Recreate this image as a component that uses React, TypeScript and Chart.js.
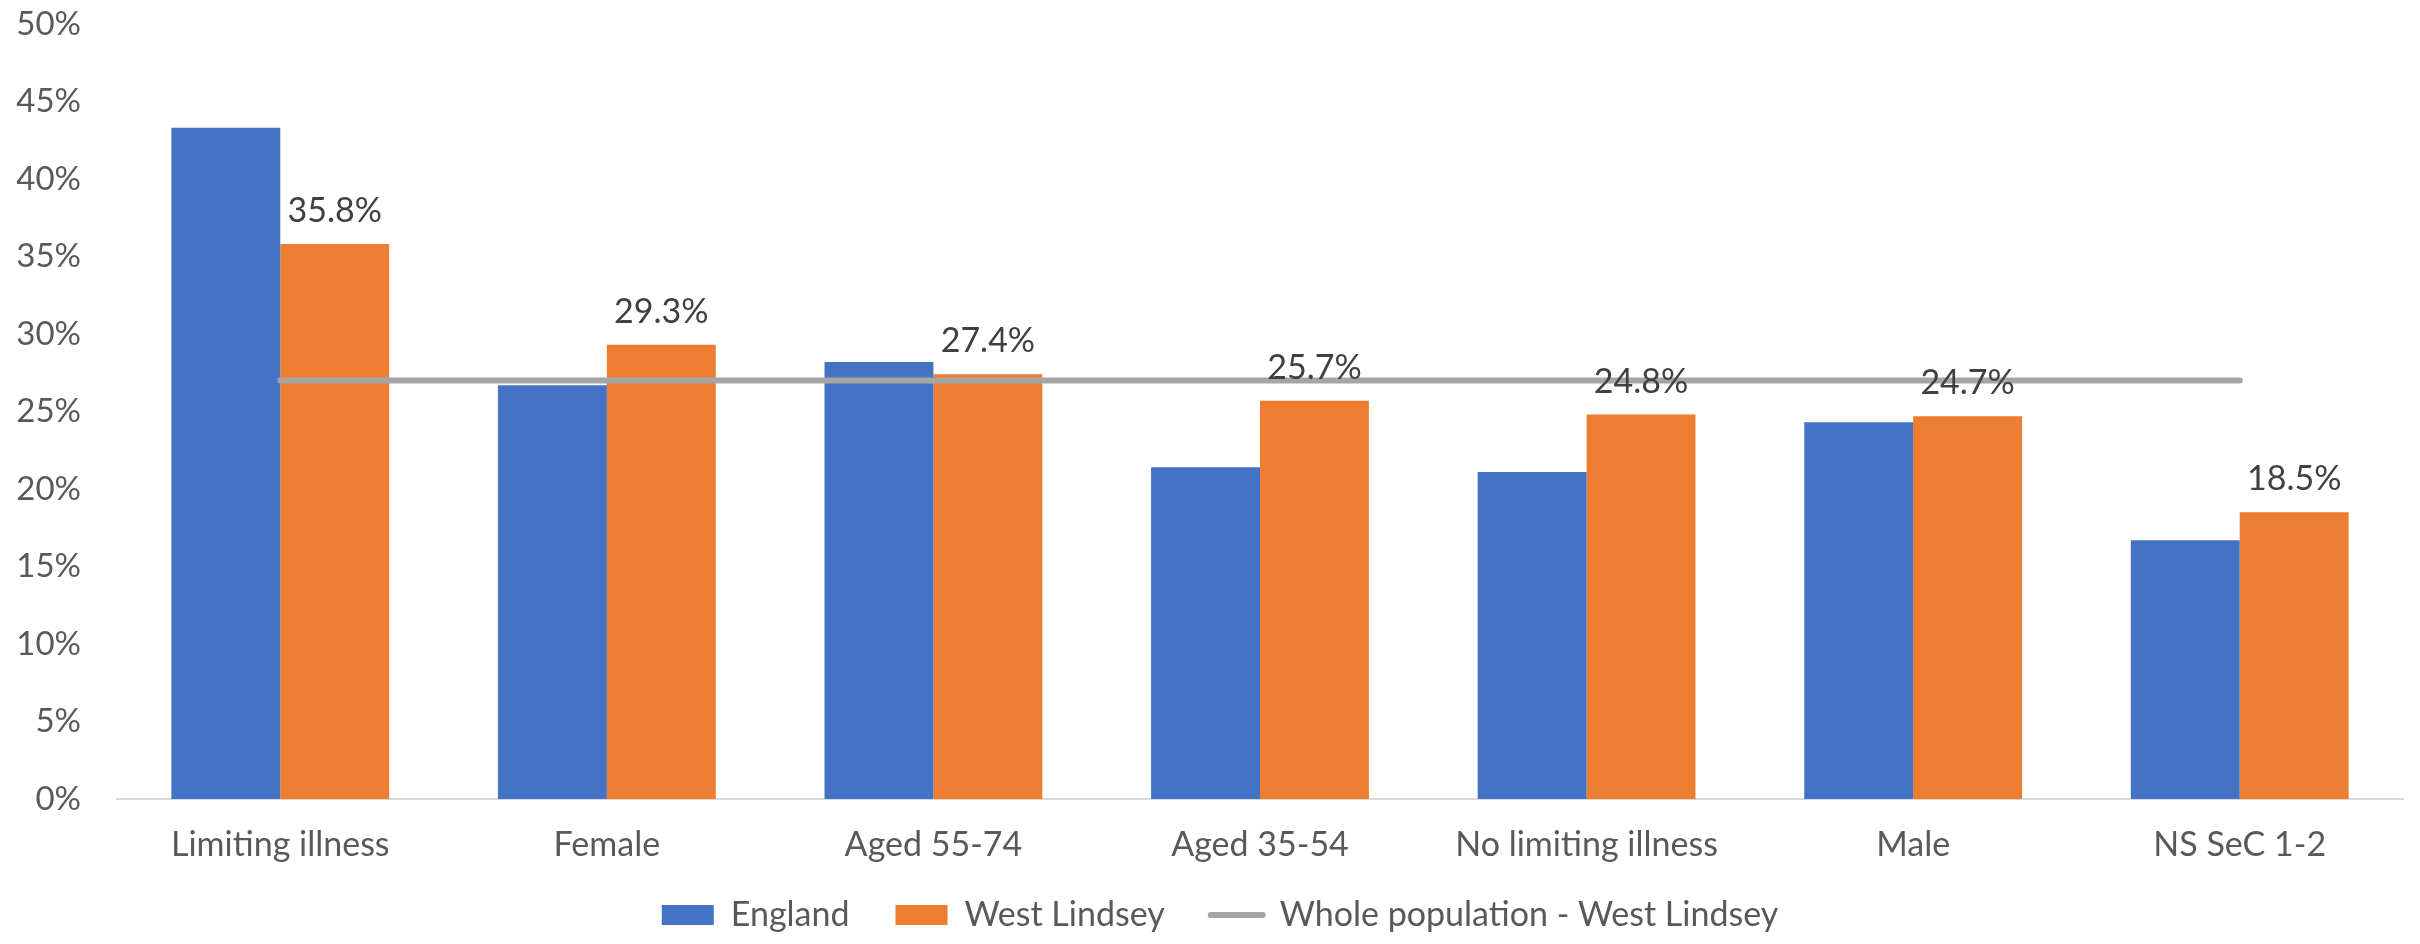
import { useEffect, useRef } from 'react';
import { Chart, registerables } from 'chart.js';

Chart.register(...registerables);

const categories = [
  'Limiting illness',
  'Female',
  'Aged 55-74',
  'Aged 35-54',
  'No limiting illness',
  'Male',
  'NS SeC 1-2',
];

// Percentages for each group
const englandValues = [43.3, 26.7, 28.2, 21.4, 21.1, 24.3, 16.7];
const westLindseyValues = [35.8, 29.3, 27.4, 25.7, 24.8, 24.7, 18.5];
const wholePopulationValues = [27.0, 27.0, 27.0, 27.0, 27.0, 27.0, 27.0];

const seriesNames = ['England', 'West Lindsey', 'Whole population - West Lindsey'];
const seriesColors = ['#4472C4', '#ED7D31', '#A5A5A5'];

const yMin = 0;
const yMax = 50;
const yStep = 5;

const FONT_FAMILY = 'Lato, "Open Sans", "DejaVu Sans", sans-serif';
const FONT_SIZE = 34;
const TICK_FONT_SIZE = 33;

// Writes the West Lindsey value above each orange bar
const westLindseyLabels = {
  id: 'westLindseyLabels',
  afterDatasetsDraw(chart: any) {
    const meta = chart.getDatasetMeta(1);
    const ctx = chart.ctx;
    ctx.save();
    ctx.font = `${FONT_SIZE}px ${FONT_FAMILY}`;
    ctx.fillStyle = '#404040';
    ctx.textAlign = 'center';
    ctx.textBaseline = 'alphabetic';
    meta.data.forEach((bar: any, i: number) => {
      ctx.fillText(westLindseyValues[i].toFixed(1) + '%', bar.x, bar.y - 22);
    });
    ctx.restore();
  },
};

export default function App() {
  const canvasRef = useRef<HTMLCanvasElement | null>(null);

  useEffect(() => {
    if (!canvasRef.current) return;
    const chart = new Chart(canvasRef.current, {
      type: 'bar',
      data: {
        labels: categories,
        datasets: [
          {
            type: 'bar',
            label: seriesNames[0],
            data: englandValues,
            backgroundColor: seriesColors[0],
            borderWidth: 0,
            order: 1,
          },
          {
            type: 'bar',
            label: seriesNames[1],
            data: westLindseyValues,
            backgroundColor: seriesColors[1],
            borderWidth: 0,
            order: 1,
          },
          {
            type: 'line',
            label: seriesNames[2],
            data: wholePopulationValues,
            borderColor: seriesColors[2],
            backgroundColor: seriesColors[2],
            borderWidth: 6,
            borderCapStyle: 'round',
            pointRadius: 0,
            pointHoverRadius: 0,
            fill: false,
            order: 0,
          },
        ] as any,
      },
      options: {
        animation: false,
        responsive: true,
        maintainAspectRatio: false,
        layout: { padding: { left: 37, right: 17, top: 24, bottom: 2 } },
        datasets: {
          bar: { categoryPercentage: 0.667, barPercentage: 1 },
        },
        scales: {
          x: {
            grid: { display: false, drawTicks: false },
            border: { display: true, color: '#D9D9D9', width: 2 },
            ticks: {
              color: '#595959',
              font: { family: FONT_FAMILY, size: FONT_SIZE, lineHeight: 1 },
              padding: 29,
              maxRotation: 0,
              autoSkip: false,
            },
            afterFit(scale: any) {
              scale.height = 53;
              // category labels may extend into the legend band
              scale._computeLabelArea = () => undefined;
            },
          },
          y: {
            min: yMin,
            max: yMax,
            grid: { display: false, drawTicks: false },
            border: { display: false },
            ticks: {
              stepSize: yStep,
              color: '#595959',
              font: { family: FONT_FAMILY, size: TICK_FONT_SIZE },
              padding: 36,
              callback: (v: any) => `${v}%`,
            },
            afterFit(scale: any) {
              scale.width = 80;
              scale.paddingTop = 0;
              scale.paddingBottom = 0;
              // percentage labels may extend into the left padding
              scale._computeLabelArea = () => undefined;
            },
          },
        },
        plugins: {
          tooltip: { enabled: false },
          legend: {
            position: 'bottom',
            labels: {
              usePointStyle: true,
              pointStyleWidth: 52,
              boxWidth: 52,
              boxHeight: 20,
              padding: 46,
              color: '#595959',
              font: { family: FONT_FAMILY, size: FONT_SIZE },
              generateLabels: () =>
                seriesNames.map((name, i) => ({
                  text: name,
                  fillStyle: seriesColors[i],
                  strokeStyle: seriesColors[i],
                  lineWidth: i === 2 ? 6 : 0,
                  lineCap: 'round',
                  pointStyle: i === 2 ? 'line' : 'rect',
                  fontColor: '#595959',
                  hidden: false,
                  datasetIndex: i,
                })) as any,
            },
          },
        },
      } as any,
      plugins: [westLindseyLabels],
    });
    return () => chart.destroy();
  }, []);

  return (
    <div
      style={{
        position: 'fixed',
        left: 0,
        top: 0,
        width: 2420,
        height: 944,
        background: '#ffffff',
      }}
    >
      <canvas ref={canvasRef} />
    </div>
  );
}
